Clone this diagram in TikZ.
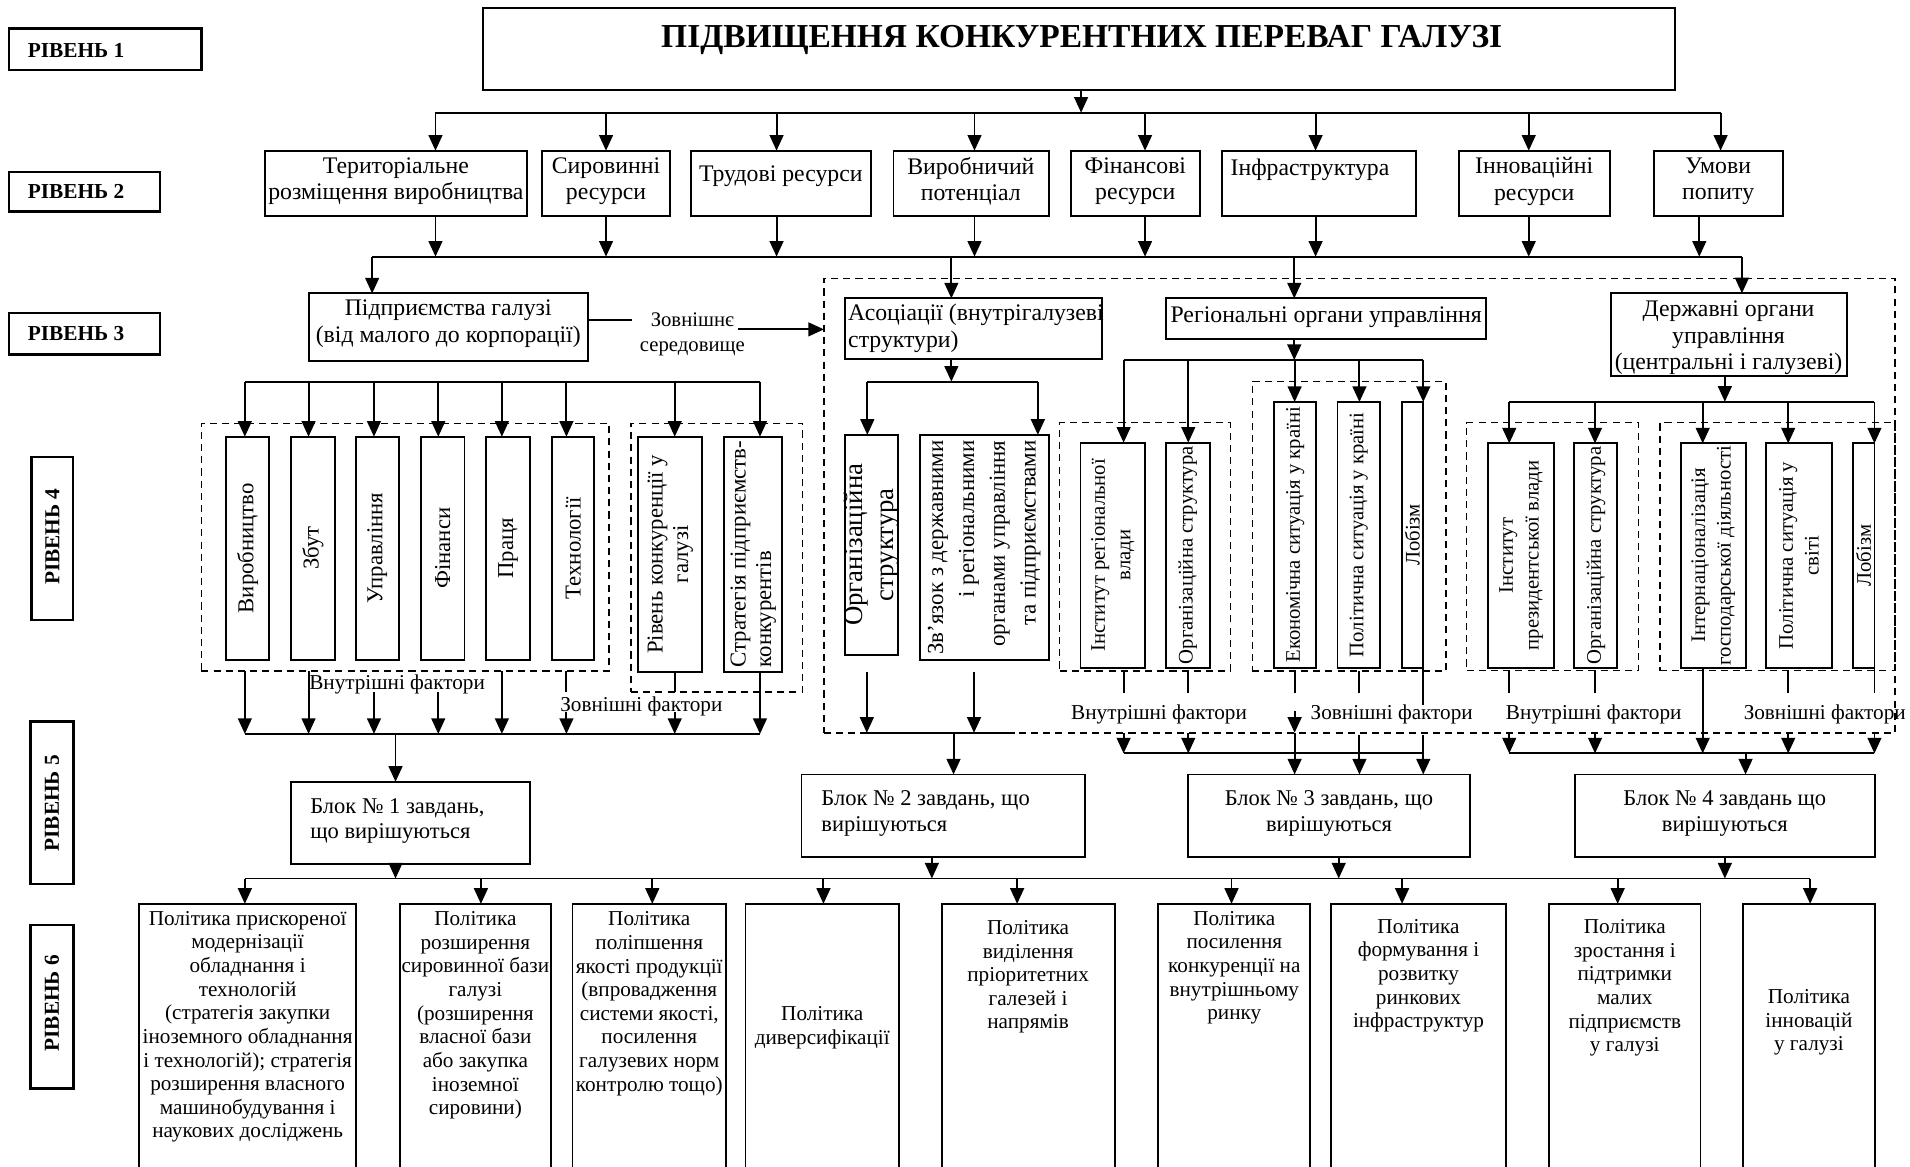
\documentclass[tikz,border=0pt]{standalone}
\usepackage{fontspec}
\setmainfont{Liberation Serif}
\usetikzlibrary{arrows.meta}
\newcommand\ftA{\fontsize{11.7pt}{13.2pt}\selectfont}
\newcommand\ftB{\fontsize{11.1pt}{12.6pt}\selectfont}
\newcommand\ftC{\fontsize{10.44pt}{11.64pt}\selectfont}
\newcommand\ftT{\fontsize{16.5pt}{19pt}\selectfont\bfseries}
\newcommand\ftL{\fontsize{10.5pt}{12pt}\selectfont\bfseries}
\newcommand\ftV{\fontsize{11.2pt}{12.6pt}\selectfont}
\newcommand\ftR{\fontsize{10.2pt}{12.6pt}\selectfont}
\newcommand\ftO{\fontsize{13.2pt}{15.6pt}\selectfont}
\newcommand\ftZ{\fontsize{11.3pt}{15.2pt}\selectfont}
\newcommand\ftF{\fontsize{10.2pt}{12.3pt}\selectfont}
% \bx[style]{name}{x1}{y1}{x2}{y2}
\newcommand\bx[6][bx]{\node[#1, minimum width={(#5-#3)*0.6pt}, minimum height={(#6-#4)*0.6pt}] (#2) at ({(#3+#5)/2},{(#4+#6)/2}) {};}
% \tx[opts]{name}{x}{y}{text}
\newcommand\tx[5][]{\node[tx,#1] (#2) at (#3,#4) {#5};}
\begin{document}
\begin{tikzpicture}[x=0.6pt,y=-0.6pt,
  bx/.style={draw, line width=0.95pt, inner sep=0pt, outer sep=0pt},
  lvl/.style={bx, line width=1.2pt},
  dbx/.style={draw, dash pattern=on 3.5pt off 2.5pt, line width=0.7pt, inner sep=0pt, outer sep=0pt},
  tx/.style={inner sep=0pt, align=center},
  ln/.style={line width=0.95pt},
  arr/.style={ln, -{Triangle[length=7.7pt,width=6.8pt]}}]
\fill[white] (0,0) rectangle (1568,958);
\useasboundingbox (0,0) rectangle (1568,958);

% ---------- level labels
\bx[lvl]{L1}{7.5}{23.3}{165.5}{57.5}
\tx[anchor=west,font=\ftL]{tL1}{22.5}{41.6}{РІВЕНЬ 1}
\bx[lvl]{L2}{7.5}{141}{131.5}{173.8}
\tx[anchor=west,font=\ftL]{tL2}{22.5}{157.4}{РІВЕНЬ 2}
\bx[lvl]{L3}{7.5}{257}{131.5}{291}
\tx[anchor=west,font=\ftL]{tL3}{22.5}{274}{РІВЕНЬ 3}
\bx[lvl]{L4}{25.8}{375}{60.1}{509}
\tx[rotate=90,font=\ftL]{tL4}{43}{440.6}{РІВЕНЬ 4}
\bx[lvl]{L5}{25}{592.4}{60.3}{725.6}
\tx[rotate=90,font=\ftL]{tL5}{42.6}{659.4}{РІВЕНЬ 5}
\bx[lvl]{L6}{25}{759.3}{60.3}{893.4}
\tx[rotate=90,font=\ftL]{tL6}{42.6}{823.6}{РІВЕНЬ 6}

% ---------- title
\bx{T}{396.5}{6.8}{1375}{73.9}
\tx[font=\ftT]{tT}{888}{33}{ПІДВИЩЕННЯ КОНКУРЕНТНИХ ПЕРЕВАГ ГАЛУЗІ}

% ---------- level 2
\bx{A1}{217.5}{123.7}{432.5}{177.3}
\bx{A2}{445}{123.7}{550}{177.3}
\bx{A3}{567.5}{123.7}{715}{177.3}
\bx{A4}{733.5}{123.7}{861}{177.3}
\bx{A5}{879}{123.7}{985}{177.3}
\bx{A6}{1003.5}{123.7}{1162.5}{177.3}
\bx{A7}{1197.5}{123.7}{1321.5}{177.3}
\bx{A8}{1357.5}{123.7}{1463.5}{177.3}
\tx[font=\ftA]{tA1}{325}{148.8}{Територіальне\\розміщення виробництва}
\tx[font=\ftA]{tA2}{497.5}{148.8}{Сировинні\\ресурси}
\tx[font=\ftA]{tA3}{641}{144.5}{Трудові ресурси}
\tx[font=\ftA]{tA4}{797}{148.8}{Виробничий\\потенціал}
\tx[font=\ftA]{tA5}{932}{148.8}{Фінансові\\ресурси}
\tx[font=\ftA,anchor=west]{tA6}{1010}{139}{Інфраструктура}
\tx[font=\ftA]{tA7}{1259.5}{148.8}{Інноваційні\\ресурси}
\tx[font=\ftA]{tA8}{1410.5}{148.8}{Умови\\попиту}

% ---------- level 3
\bx{B1}{253.5}{240.9}{483}{296}
\bx{B2}{694}{245}{905}{295}
\bx{B3}{957.5}{245}{1220}{278.5}
\bx{B4}{1322.5}{240.8}{1516}{308.7}
\tx[font=\ftA]{tB1}{368}{265.7}{Підприємства галузі\\(від малого до корпорації)}
\tx[font=\ftA,anchor=west,align=left]{tB2}{696}{269.8}{Асоціації (внутрігалузеві\\структури)}
\tx[font=\ftA]{tB3}{1088.7}{260}{Регіональні органи управління}
\tx[font=\ftA]{tB4}{1419}{277.3}{Державні органи\\управління\\(центральні і галузеві)}
\tx[font=\ftF]{tZ}{568.4}{274.5}{Зовнішнє\\середовище}

% ---------- dashed frames
\bx[dbx]{G}{676.4}{228.5}{1555.7}{601.6}
\bx[dbx]{D1}{165.3}{347.5}{500}{551}
\bx[dbx]{D2}{518}{347.5}{659}{568.2}
\bx[dbx]{R1}{870}{347}{1010}{551}
\bx[dbx]{R2}{1028}{313}{1187}{551}
\bx[dbx]{S1}{1204}{347}{1345}{550.6}
\bx[dbx]{S2}{1362.8}{347}{1555.7}{550.6}

% ---------- level 4 boxes
\bx{V1}{185.5}{358.5}{221}{542}
\bx{V2}{239}{358.5}{274.8}{542}
\bx{V3}{292}{358.5}{327.6}{542}
\bx{V4}{345.6}{358.5}{381.3}{542}
\bx{V5}{399.3}{358.5}{435}{542}
\bx{V6}{453}{358.5}{488}{542}
\bx{V7}{523.8}{358.5}{576.6}{551.5}
\bx{V8}{594.7}{358.5}{642}{551.5}
\tx[rotate=90,font=\ftV]{tV1}{203.25}{450}{Виробництво}
\tx[rotate=90,font=\ftV]{tV2}{256.9}{450}{Збут}
\tx[rotate=90,font=\ftV]{tV3}{309.8}{450}{Управління}
\tx[rotate=90,font=\ftV]{tV4}{363.45}{450}{Фінанси}
\tx[rotate=90,font=\ftV]{tV5}{417.15}{450}{Праця}
\tx[rotate=90,font=\ftV]{tV6}{470.5}{450}{Технології}
\tx[rotate=90,font=\ftV]{tV7}{550.2}{455}{Рівень конкуренції у\\галузі}
\tx[rotate=90,font=\ftV,align=left]{tV8}{618.35}{455}{Стратегія підприємств-\\конкурентів}

\bx{C1}{694}{357}{737.5}{537.5}
\bx{C2}{755}{357}{861}{542}
\tx[rotate=90,font=\ftO]{tC1}{715.75}{447.25}{Організаційна\\структура}
\tx[rotate=90,font=\ftZ,align=right]{tC2}{808}{449.5}{Зв'язок з державними\\і регіональними\\органами управління\\та підприємствами}

\bx{R1a}{887}{363.4}{940}{548}
\bx{R1b}{957}{363.4}{993}{548}
\bx{R2a}{1046}{330}{1080.5}{548}
\bx{R2b}{1098}{330}{1133}{548}
\bx{R2c}{1151}{330}{1168}{548}
\tx[rotate=90,font=\ftR]{tR1a}{913.5}{455.7}{Інститут регіональної\\влади}
\tx[rotate=90,font=\ftR]{tR1b}{975}{455.7}{Організаційна структура}
\tx[rotate=90,font=\ftR]{tR2a}{1063.25}{439}{Економічна ситуація у країні}
\tx[rotate=90,font=\ftR]{tR2b}{1115.5}{439}{Політична ситуація у країні}
\tx[rotate=90,font=\ftR]{tR2c}{1159.5}{439}{Лобізм}

\bx{S1a}{1221.8}{364}{1275.8}{548}
\bx{S1b}{1292.5}{364}{1327.8}{548}
\bx{S2a}{1380}{364}{1433}{548}
\bx{S2b}{1450}{364}{1503.7}{548}
\bx{S2c}{1521}{364}{1538.8}{548}
\tx[rotate=90,font=\ftR]{tS1a}{1248.8}{456}{Інститут\\президентської влади}
\tx[rotate=90,font=\ftR]{tS1b}{1310.15}{456}{Організаційна структура}
\tx[rotate=90,font=\ftR]{tS2a}{1406.5}{456}{Інтернаціоналізація\\господарської діяльності}
\tx[rotate=90,font=\ftR]{tS2b}{1476.85}{456}{Політична ситуація у\\світі}
\tx[rotate=90,font=\ftR]{tS2c}{1529.9}{456}{Лобізм}

% factor labels
\tx[font=\ftC]{tF1}{326}{561.5}{Внутрішні фактори}
\tx[font=\ftC]{tF2}{526.5}{579.5}{Зовнішні фактори}
\tx[font=\ftC]{tF3}{951.5}{586.5}{Внутрішні фактори}
\tx[font=\ftC]{tF4}{1142.5}{586.5}{Зовнішні фактори}
\tx[font=\ftC]{tF5}{1308.3}{586.5}{Внутрішні фактори}
\tx[font=\ftC]{tF6}{1498}{586.5}{Зовнішні фактори}

% ---------- level 5
\bx{K1}{239}{641.8}{435}{708.9}
\bx{K2}{658}{635.8}{890.5}{703.4}
\bx{K3}{975.5}{635.8}{1207}{703.4}
\bx{K4}{1293}{635.8}{1539}{703.4}
\tx[font=\ftB,anchor=west,align=left]{tK1}{254.4}{674}{Блок № 1 завдань,\\що вирішуються}
\tx[font=\ftB,anchor=west,align=left]{tK2}{674}{668}{Блок № 2 завдань, що\\вирішуються}
\tx[font=\ftB]{tK3}{1091}{668}{Блок № 3 завдань, що\\вирішуються}
\tx[font=\ftB]{tK4}{1416}{668}{Блок № 4 завдань що\\вирішуються}

% ---------- level 6
\bx{P1}{114}{742}{292.6}{975}
\bx{P2}{328}{742}{452.5}{975}
\bx{P3}{470}{742}{596}{975}
\bx{P4}{612}{742}{738}{975}
\bx{P5}{773}{742}{915}{975}
\bx{P6}{951}{742}{1075.6}{975}
\bx{P7}{1093}{742}{1236}{975}
\bx{P8}{1271.7}{742}{1396}{975}
\bx{P9}{1431}{742}{1539}{975}
\tx[font=\ftC]{tP1}{203.3}{843}{Політика прискореної\\модернізації\\обладнання і\\технологій\\(стратегія закупки\\іноземного обладнання\\і технологій); стратегія\\розширення власного\\машинобудування і\\наукових досліджень}
\tx[font=\ftC]{tP2}{390.25}{833.6}{Політика\\розширення\\сировинної бази\\галузі\\(розширення\\власної бази\\або закупка\\іноземної\\сировини)}
\tx[font=\ftC]{tP3}{533}{824}{Політика\\поліпшення\\якості продукції\\(впровадження\\системи якості,\\посилення\\галузевих норм\\контролю тощо)}
\tx[font=\ftC]{tP4}{675}{843.5}{Політика\\диверсифікації}
\tx[font=\ftC]{tP5}{844}{802}{Політика\\виділення\\пріоритетних\\галезей і\\напрямів}
\tx[font=\ftC]{tP6}{1013.3}{794.5}{Політика\\посилення\\конкуренції на\\внутрішньому\\ринку}
\tx[font=\ftC]{tP7}{1164.5}{801}{Політика\\формування і\\розвитку\\ринкових\\інфраструктур}
\tx[font=\ftC]{tP8}{1333.85}{811}{Політика\\зростання і\\підтримки\\малих\\підприємств\\у галузі}
\tx[font=\ftC]{tP9}{1485}{839.5}{Політика\\інновацій\\у галузі}

% ================= connectors
% title -> level 2
\coordinate (c0) at (887.5,92.5);
\draw[arr] (T.south -| c0) -- (c0);
\coordinate (h1L) at (357.5,92.5); \coordinate (h1R) at (1412.5,92.5);
\draw[ln] (h1L) -- (h1R);
\foreach \xx/\nm in {357.5/A1,497.5/A2,637.5/A3,800/A4,940/A5,1080/A6,1255/A7,1412.5/A8}
  {\coordinate (u\nm) at (\xx,92.5); \draw[arr] (u\nm) -- (u\nm |- \nm.north);}
% level 2 -> level 3
\foreach \xx/\nm in {357.5/A1,497.5/A2,637.5/A3,800/A4,940/A5,1080/A6,1255/A7,1395/A8}
  {\coordinate (d\nm) at (\xx,210.7); \draw[arr] (d\nm |- \nm.south) -- (d\nm);}
\coordinate (h2L) at (305.5,210.7); \coordinate (h2R) at (1430,210.7);
\draw[ln] (h2L) -- (h2R);
\foreach \xx/\nm in {305.5/B1,781/B2,1062.5/B3,1430/B4}
  {\coordinate (e\nm) at (\xx,210.7); \draw[arr] (e\nm) -- (e\nm |- \nm.north);}
% external environment
\coordinate (z1) at (519,262.8);
\draw[ln] (B1.east |- z1) -- (z1);
\coordinate (z2) at (606,270.4);
\draw[arr] (z2) -- (z2 -| G.west);

% left group
\coordinate (h3L) at (201,313.4); \coordinate (h3R) at (623.9,313.4);
\draw[ln] (h3L) -- (h3R);
\foreach \xx/\nm in {201/V1,253.3/V2,307/V3,359.8/V4,412/V5,465/V6,553.9/V7,623.9/V8}
  {\coordinate (f\nm) at (\xx,313.4); \draw[arr] (f\nm) -- (f\nm |- \nm.north);
   \coordinate (g\nm) at (\xx,602.5);}
\coordinate (kk) at (0,584.4);
\draw[arr] (gV1 |- D1.south) -- (gV1);
\draw[arr] (gV2 |- D1.south) -- (gV2);
\draw[arr] (gV3 |- D2.south) -- (gV3);
\draw[arr] (gV4 |- D2.south) -- (gV4);
\draw[arr] (gV5 |- D1.south) -- (gV5);
\draw[ln] (gV6 |- D1.south) -- (gV6 |- D2.south);
\draw[arr] (gV6 |- kk) -- (gV6);
\draw[ln] (gV7 |- V7.south) -- (gV7 |- D2.south);
\draw[arr] (gV7 |- kk) -- (gV7);
\draw[arr] (gV8 |- V8.south) -- (gV8);
\draw[ln] (gV1) -- (gV8);
\coordinate (m1) at (324.7,602.5);
\draw[arr] (m1) -- (m1 |- K1.north);

% associations
\coordinate (n0) at (781,313.3);
\draw[arr] (B2.south -| n0) -- (n0);
\coordinate (nL) at (712,313.3); \coordinate (nR) at (852,313.3);
\draw[ln] (nL) -- (nR);
\draw[arr] (nL) -- (nL |- C1.north);
\draw[arr] (nR) -- (nR |- C2.north);
\coordinate (na) at (711.6,551.5); \coordinate (nb) at (799.6,551.5);
\draw[arr] (na) -- (na |- G.south);
\draw[arr] (nb) -- (nb |- G.south);
\coordinate (ns1) at (707.4,601.6); \coordinate (ns2) at (833,601.6);
\draw[ln] (ns1) -- (ns2);
\coordinate (n2) at (782.8,601.6);
\draw[arr] (n2) -- (n2 |- K2.north);

% regional
\coordinate (r0) at (1062.5,295.6);
\draw[arr] (B3.south -| r0) -- (r0);
\coordinate (rL) at (922.4,295.6); \coordinate (rR) at (1168.4,295.6);
\draw[ln] (rL) -- (rR);
\foreach \xx/\nm in {922.4/R1a,975.5/R1b,1062.8/R2a,1116/R2b,1168.4/R2c}
  {\coordinate (p\nm) at (\xx,295.6); \draw[arr] (p\nm) -- (p\nm |- \nm.north);
   \coordinate (q\nm) at (\xx,618.5);}
\coordinate (yA) at (0,568.7); \coordinate (yB) at (0,584);
\draw[ln] (qR1a |- R1.south) -- (qR1a |- yA);
\draw[ln] (qR1b |- R1.south) -- (qR1b |- yA);
\draw[ln] (qR2a |- R2.south) -- (qR2a |- yA);
\draw[ln] (qR2b |- R2.south) -- (qR2b |- yA);
\coordinate (yC) at (0,579);
\draw[ln] (qR2c |- R2c.south) -- (qR2c |- yC);
\draw[arr] (qR1a |- G.south) -- (qR1a);
\draw[arr] (qR1b |- G.south) -- (qR1b);
\draw[arr] (qR2a |- yB) -- (qR2a |- G.south);
\draw[arr] (qR2a |- G.south) -- (qR2a |- K3.north);
\coordinate (yD) at (0,603.5);
\draw[arr] (qR2b |- yD) -- (qR2b |- K3.north);
\draw[arr] (qR2c |- yD) -- (qR2c |- K3.north);
\draw[ln] (qR1a) -- (qR2c);

% state
\coordinate (s0) at (1416,329.8);
\draw[arr] (B4.south -| s0) -- (s0);
\coordinate (sL) at (1239,329.8); \coordinate (sR) at (1538.8,329.8);
\draw[ln] (sL) -- (sR);
\foreach \xx/\nm in {1239/S1a,1309.4/S1b,1397.8/S2a,1468/S2b,1538.8/S2c}
  {\coordinate (v\nm) at (\xx,329.8); \draw[arr] (v\nm) -- (v\nm |- \nm.north);
   \coordinate (w\nm) at (\xx,618.5);}
\draw[ln] (wS1a |- S1.south) -- (wS1a |- yA);
\draw[ln] (wS1b |- S1.south) -- (wS1b |- yA);
\draw[ln] (wS2b |- S2.south) -- (wS2b |- yA);
\draw[ln] (wS2c |- S2c.south) -- (wS2c |- yA);
\draw[arr] (wS2a |- S2a.south) -- (wS2a);
\draw[arr] (wS1a |- G.south) -- (wS1a);
\draw[arr] (wS1b |- G.south) -- (wS1b);
\draw[arr] (wS2b |- G.south) -- (wS2b);
\draw[arr] (wS2c |- G.south) -- (wS2c);
\draw[ln] (wS1a) -- (wS2c);
\coordinate (s4) at (1433,618.5);
\draw[arr] (s4) -- (s4 |- K4.north);

% level 5 -> level 6
\coordinate (h6L) at (201,721.2); \coordinate (h6R) at (1486,721.2);
\draw[ln] (h6L) -- (h6R);
\foreach \xx/\nm in {324.7/K1,765/K2,1099/K3,1416/K4}
  {\coordinate (o\nm) at (\xx,721.2); \draw[arr] (o\nm |- \nm.south) -- (o\nm);}
\foreach \xx/\nm in {201/P1,394.8/P2,535.5/P3,676/P4,835/P5,1011/P6,1151/P7,1328/P8,1486/P9}
  {\coordinate (i\nm) at (\xx,721.2); \draw[arr] (i\nm) -- (i\nm |- \nm.north);}
\end{tikzpicture}
\end{document}
